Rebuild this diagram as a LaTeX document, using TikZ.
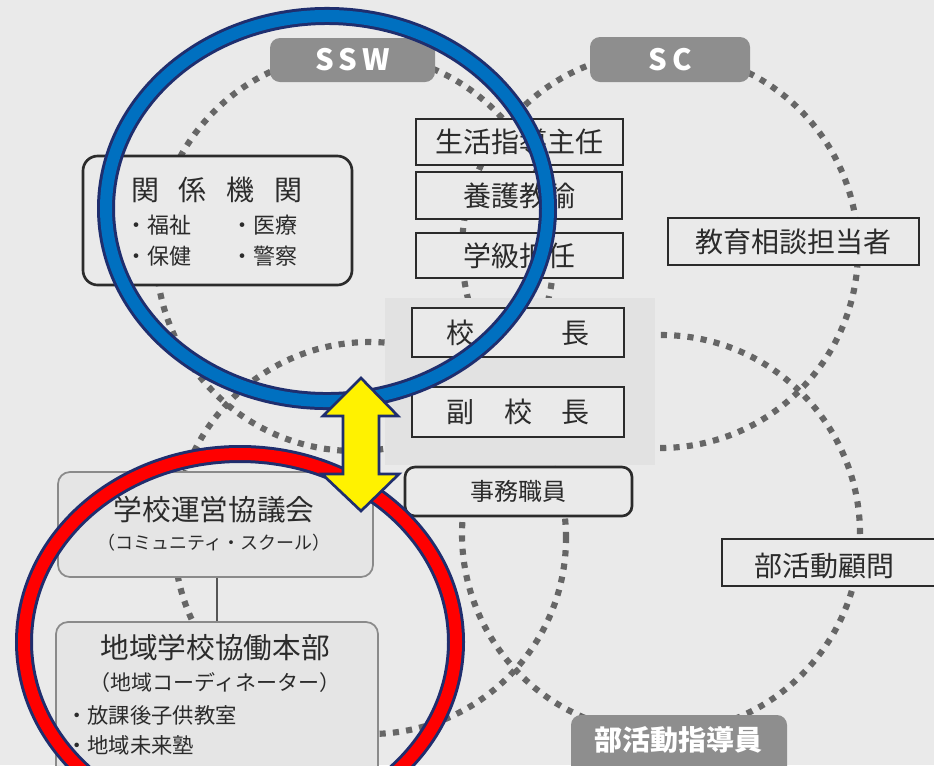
\documentclass[tikz,border=0pt]{standalone}
\usepackage{fontspec}
\setmainfont{Noto Sans CJK JP}
\definecolor{bg}{HTML}{EAEAEA}
\definecolor{region}{HTML}{E2E2E2}
\definecolor{ink}{HTML}{2B2B2B}
\definecolor{dotc}{HTML}{666666}
\definecolor{graybox}{HTML}{8E8E8E}
\definecolor{navy}{HTML}{1F2E6E}
\definecolor{ringblue}{HTML}{0070C0}
\definecolor{ringred}{HTML}{FF0000}
\definecolor{lightborder}{HTML}{8A8A8A}
\definecolor{lightfill}{HTML}{E5E5E5}
\tikzset{
  dotring/.style={draw=dotc, line width=4.6pt, dash pattern=on 4.6pt off 5.4pt},
  colbox/.style={draw=ink, line width=1.1pt, fill=bg, inner sep=0pt, text=ink, font=\fontsize{21pt}{25pt}\selectfont},
  graytag/.style={fill=graybox, rounded corners=7.5pt, inner sep=0pt, text=white},
  softbox/.style={draw=lightborder, line width=1.3pt, fill=lightfill, rounded corners=9pt, inner sep=0pt},
  lbl/.style={inner sep=0pt, text=ink},
}
\begin{document}
\begin{tikzpicture}[x=0.75pt,y=-0.75pt]
\useasboundingbox (0,0) rectangle (934,765);
\clip (0,0) rectangle (934,765);
\fill[bg] (0,0) rectangle (934,765);

% dotted circles
\draw[dotring] (355,252) circle[radius=149.25pt];
\draw[dotring] (660,250) circle[radius=148.5pt];
\draw[dotring] (370,538) circle[radius=147pt];
\draw[dotring] (661,534) circle[radius=149.25pt];

% central shaded area
\fill[region] (385,298) rectangle (655,465);

% top tags
\node[graytag, minimum width=123.75pt, minimum height=33pt, font=\fontsize{22pt}{24pt}\selectfont\bfseries] (ssw) at (352.5,60) {S\,S\,W};
\node[graytag, minimum width=120pt, minimum height=33.75pt, font=\fontsize{22pt}{24pt}\selectfont\bfseries] (sc) at (670,59.5) {S\,C};

% central column
\node[colbox, minimum width=155.25pt, minimum height=34.5pt] (ssd) at (519.5,142) {生活指導主任};
\node[colbox, minimum width=154.5pt, minimum height=35.25pt] (yogo) at (519,195.5) {養護教諭};
\node[colbox, minimum width=155.25pt, minimum height=33.75pt] (gakkyu) at (519.5,255.5) {学級担任};
\node[colbox, minimum width=159pt, minimum height=36.75pt] (kocho) at (518,332.5) {校\hspace{3.14em}長};
\node[colbox, minimum width=159pt, minimum height=37.5pt] (fuku) at (518,412) {副\hspace{1.07em}校\hspace{1.07em}長};
\node[colbox, rounded corners=7.5pt, line width=2pt, minimum width=170.25pt, minimum height=36.75pt, font=\fontsize{18pt}{22pt}\selectfont] (jimu) at (518.5,491.5) {事務職員};

% right boxes
\node[colbox, minimum width=188.25pt, minimum height=35.25pt] (kyoiku) at (793.5,241.5) {教育相談担当者};
\node[colbox, minimum width=163.5pt, minimum height=35.25pt] (bukatsu) at (831,562.5) {};
\node[lbl, font=\fontsize{21pt}{25pt}\selectfont] (bukatsut) at (824,566) {部活動顧問};

% bottom tag
\node[graytag, minimum width=162pt, minimum height=48.75pt] (shidoin) at (679,747.5) {};
\node[lbl, text=white, font=\fontsize{21pt}{25pt}\selectfont\bfseries] (shidoint) at (678,740) {部活動指導員};

% related agencies
\node[draw=ink, line width=2pt, fill=bg, rounded corners=11pt, inner sep=0pt, minimum width=201.75pt, minimum height=96.75pt] (kankei) at (217.5,220.5) {};
\node[lbl, font=\fontsize{21pt}{25pt}\selectfont] (kankeit) at (217,190) {関\hspace{15pt}係\hspace{15pt}機\hspace{15pt}関};
\node[lbl, anchor=west, font=\fontsize{16.5pt}{19pt}\selectfont] (k1) at (125,225) {・福祉};
\node[lbl, anchor=west, font=\fontsize{16.5pt}{19pt}\selectfont] (k2) at (231,225) {・医療};
\node[lbl, anchor=west, font=\fontsize{16.5pt}{19pt}\selectfont] (k3) at (125,256) {・保健};
\node[lbl, anchor=west, font=\fontsize{16.5pt}{19pt}\selectfont] (k4) at (231,256) {・警察};

% community boxes
\node[softbox, minimum width=236.25pt, minimum height=78.75pt] (unei) at (215.5,524.5) {};
\node[lbl, font=\fontsize{21.5pt}{25pt}\selectfont] (uneit) at (214,510) {学校運営協議会};
\node[lbl, font=\fontsize{13.5pt}{16pt}\selectfont] (uneis) at (214,543) {（コミュニティ・スクール）};
\node[softbox, minimum width=241.5pt, minimum height=126pt] (chiiki) at (217,706) {};
\node[lbl, font=\fontsize{21.5pt}{25pt}\selectfont] (chiikit) at (215,648) {地域学校協働本部};
\node[lbl, font=\fontsize{15.75pt}{19pt}\selectfont] (chiikis) at (215,683) {（地域コーディネーター）};
\node[lbl, anchor=west, font=\fontsize{16pt}{19pt}\selectfont] (c1) at (66,715) {・放課後子供教室};
\node[lbl, anchor=west, font=\fontsize{16pt}{19pt}\selectfont] (c2) at (66,745) {・地域未来塾};
\draw[draw=ink!80, line width=1.5pt] (unei.south -| 217,0) -- (chiiki.north -| 217,0);

% highlight rings
\draw[navy, line width=13.5pt] (327,208.5) ellipse[x radius=165.75pt, y radius=144.4pt];
\draw[ringblue, line width=9pt] (327,208.5) ellipse[x radius=165.75pt, y radius=144.4pt];
\draw[navy, line width=13.5pt] (240,642) ellipse[x radius=162pt, y radius=141pt];
\draw[ringred, line width=9pt] (240,642) ellipse[x radius=162pt, y radius=141pt];

% double arrow
\draw[fill=yellow, draw=navy, line width=2pt, line join=miter]
  (361,378) -- (398,416) -- (379,416) -- (379,474) -- (399,474) -- (361,511)
  -- (322,474) -- (343,474) -- (343,416) -- (323,416) -- cycle;
\end{tikzpicture}
\end{document}
